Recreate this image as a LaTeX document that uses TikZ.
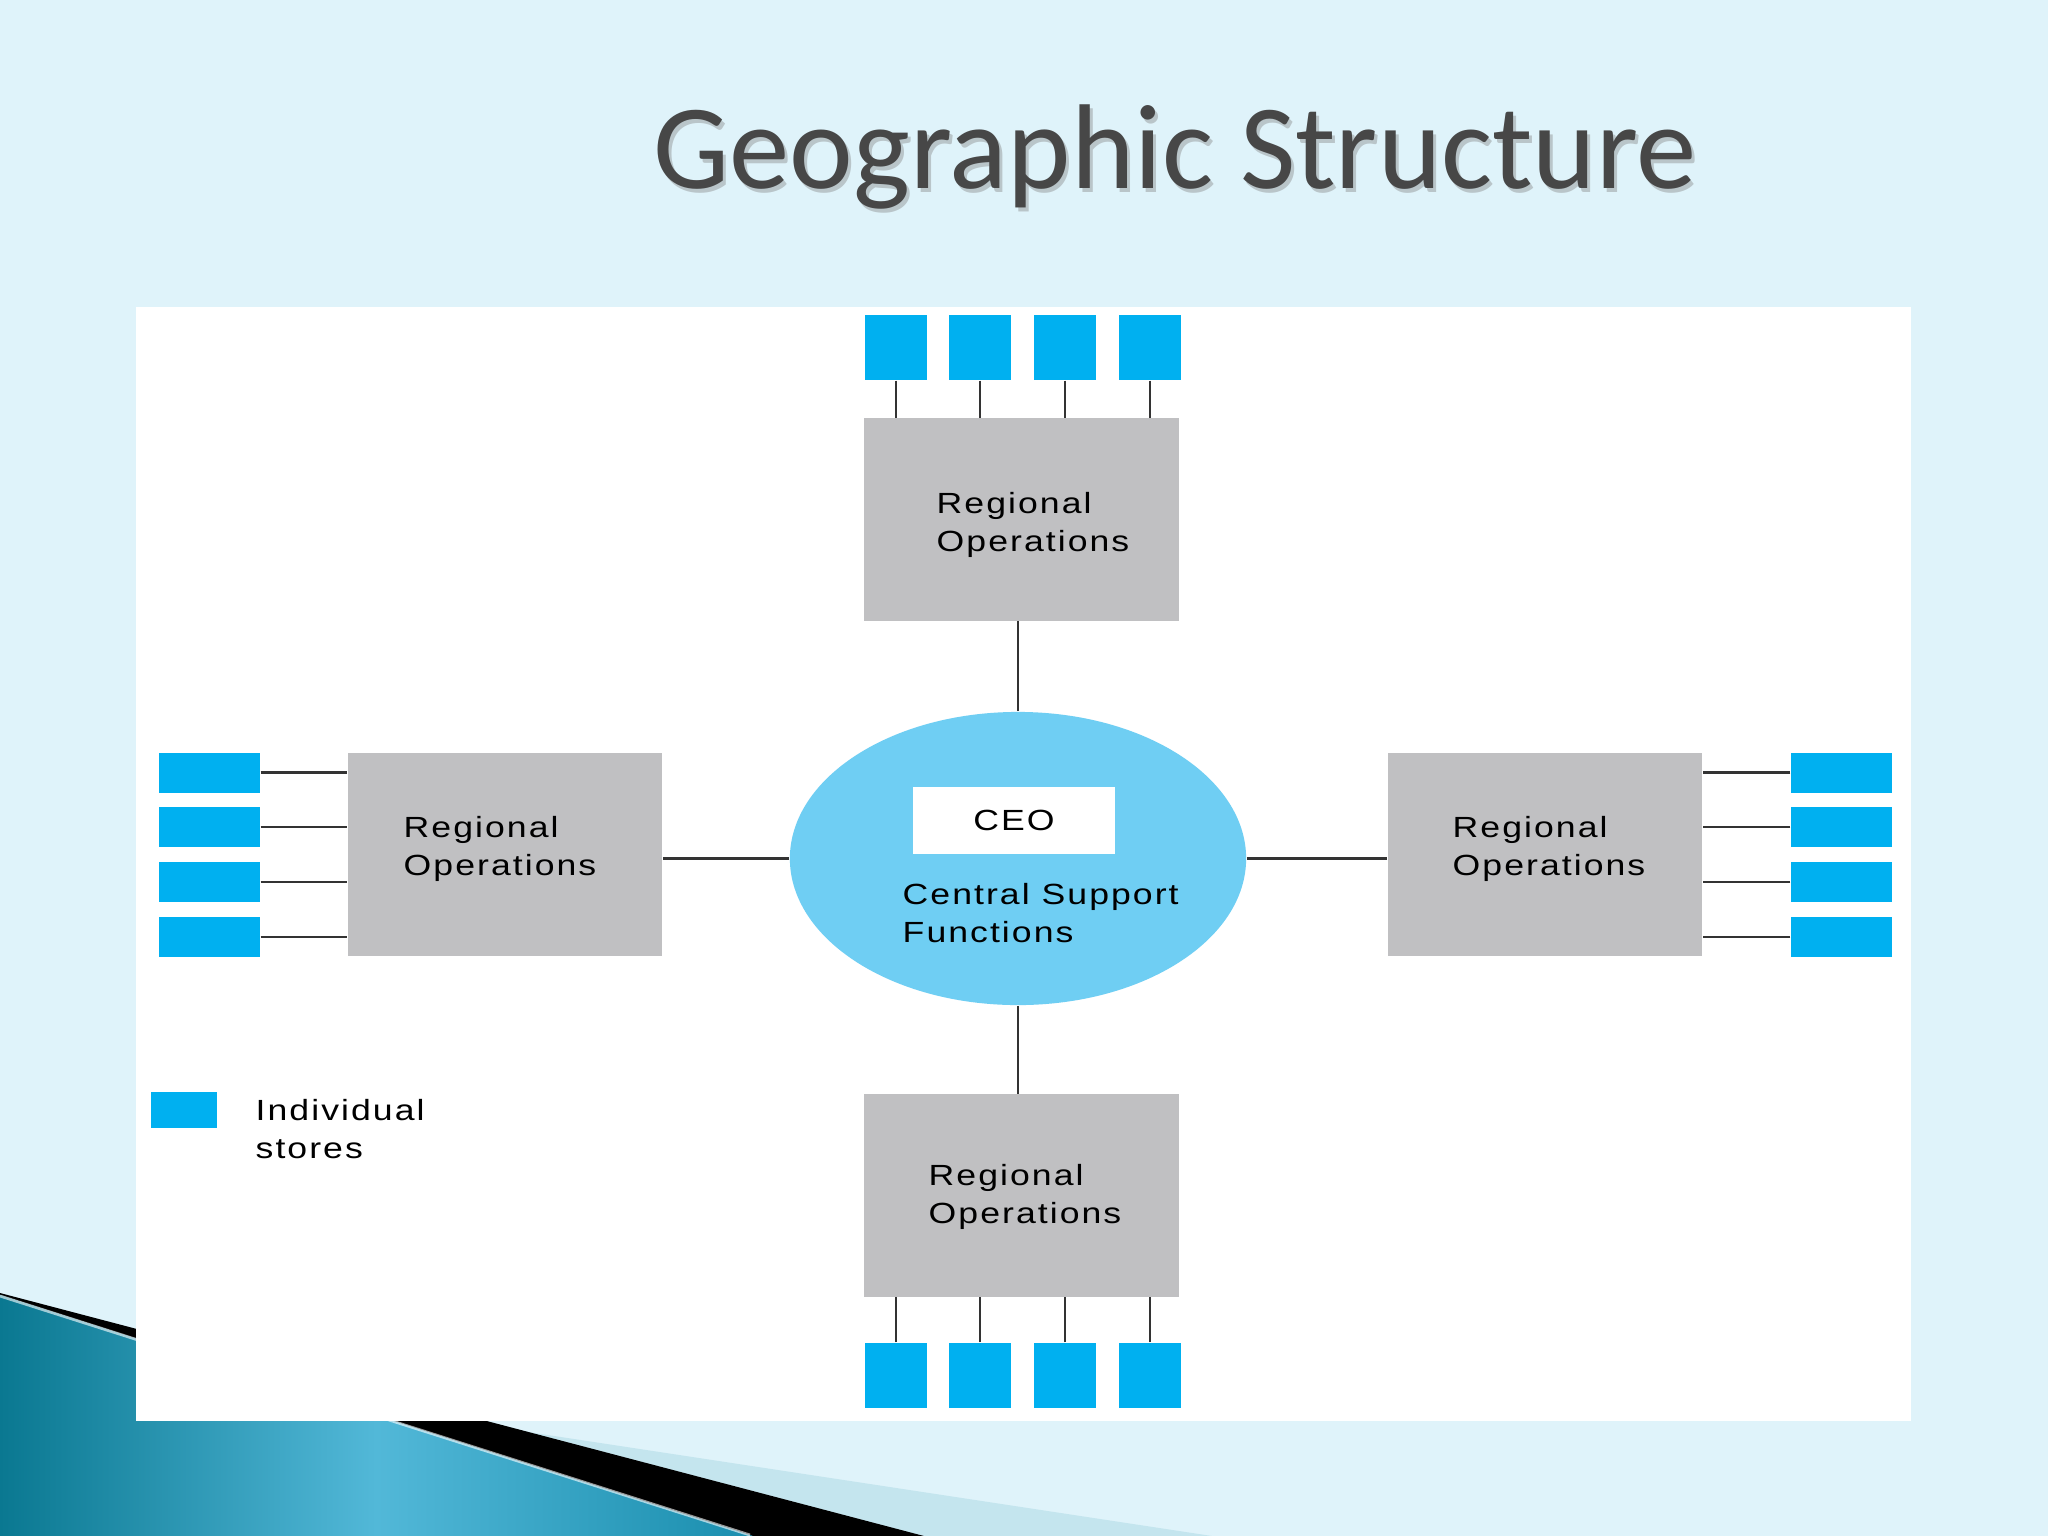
\documentclass[tikz,border=0pt]{standalone}
\usepackage{fontspec}
\usetikzlibrary{shapes.geometric}
\newfontfamily\diagfont[FakeStretch=1.22,LetterSpace=7]{Liberation Sans}
\newfontfamily\titlefont{Carlito}
\definecolor{slidebg}{HTML}{DFF3FA}
\definecolor{bandlight}{HTML}{C4E5EE}
\definecolor{tealdark}{HTML}{0A7891}
\definecolor{teallight}{HTML}{52B8D8}
\definecolor{tealmid}{HTML}{1A8EAE}
\definecolor{storeblue}{HTML}{00B0F0}
\definecolor{regiongray}{HTML}{C0C0C2}
\definecolor{ellblue}{HTML}{6FCEF3}
\definecolor{titlegray}{HTML}{474747}
\definecolor{linecol}{HTML}{333333}
\tikzset{
  store/.style={rectangle, fill=storeblue, draw=none, inner sep=0pt},
  vstore/.style={store, minimum width=0.62cm, minimum height=0.65cm},
  hstore/.style={store, minimum width=1.01cm, minimum height=0.40cm},
  region/.style={rectangle, fill=regiongray, draw=none, inner sep=0pt, minimum width=3.14cm, minimum height=2.02cm},
  lbl/.style={inner sep=0pt, anchor=base west, align=left, text=black, font=\diagfont\fontsize{8.3}{10.8}\selectfont},
  conn/.style={draw=linecol, line width=0.6pt},
}
\begin{document}
\begin{tikzpicture}[x=0.01cm, y=-0.01cm]
\useasboundingbox (0,0) rectangle (2048,1536);
% background
\fill[slidebg] (0,0) rectangle (2048,1536);
% decorative bands bottom-left
\fill[bandlight] (140,1330) -- (140,1373) -- (1212,1536) -- (924,1536) -- cycle;
\fill[black] (0,1293) -- (924,1536) -- (753,1536) -- (0,1295) -- cycle;
\fill[left color=tealdark, right color=tealmid, middle color=teallight] (0,1295) -- (753,1536) -- (0,1536) -- cycle;
\draw[white, opacity=0.6, line width=0.8pt] (0,1296) -- (750,1535);
% white panel
\fill[white] (136,307) rectangle (1911,1421);
% title
\node[inner sep=0pt, anchor=base west, text=gray, opacity=0.4, font=\titlefont\fontsize{34.3}{40}\selectfont] (titleshadow) at (656,192) {Geographic Structure};
\node[inner sep=0pt, anchor=base west, text=titlegray, font=\titlefont\fontsize{34.3}{40}\selectfont] (title) at (653,188) {Geographic Structure};
% central ellipse
\node[ellipse, fill=ellblue, draw=none, inner sep=0pt, minimum width=4.56cm, minimum height=2.93cm] (ell) at (1018,858.5) {};
\node[rectangle, fill=white, draw=none, inner sep=0pt, minimum width=2.02cm, minimum height=0.67cm, font=\diagfont\fontsize{8.3}{10.8}\selectfont] (ceo) at (1014,820.5) {CEO};
\node[lbl] (csf) at (902,942) {Central Support\\Functions};
% regional boxes
\node[region] (gt) at (1021.5,519.5) {};
\node[region] (gb) at (1021.5,1195.5) {};
\node[region] (gl) at (505,854.5) {};
\node[region] (gr) at (1545,854.5) {};
\node[lbl] (lt) at (936,551) {Regional\\Operations};
\node[lbl] (lb) at (928,1223) {Regional\\Operations};
\node[lbl] (ll) at (403,875) {Regional\\Operations};
\node[lbl] (lr) at (1452,875) {Regional\\Operations};
% stores top / bottom
\foreach \i/\x in {1/896,2/980,3/1065,4/1150}{
  \node[vstore] (st\i) at (\x,347.5) {};
  \node[vstore] (sb\i) at (\x,1375.5) {};
  \draw[conn] (st\i.south) -- (st\i.south |- gt.north);
  \draw[conn] (sb\i.north) -- (sb\i.north |- gb.south);
}
% stores left / right
\foreach \i/\y in {1/772.5,2/827,3/882,4/937}{
  \node[hstore] (sl\i) at (209.5,\y) {};
  \node[hstore] (sr\i) at (1841.5,\y) {};
  \draw[conn] (sl\i.east) -- (sl\i.east -| gl.west);
  \draw[conn] (sr\i.west) -- (sr\i.west -| gr.east);
}
% region to ellipse
\draw[conn] (ell.north) -- (ell.north |- gt.south);
\draw[conn] (ell.south) -- (ell.south |- gb.north);
\draw[conn] (ell.west) -- (ell.west -| gl.east);
\draw[conn] (ell.east) -- (ell.east -| gr.west);
% legend
\node[store, minimum width=0.66cm, minimum height=0.36cm] (legbox) at (184,1110) {};
\node[lbl] (legtext) at (255,1158) {Individual\\stores};
\end{tikzpicture}
\end{document}
